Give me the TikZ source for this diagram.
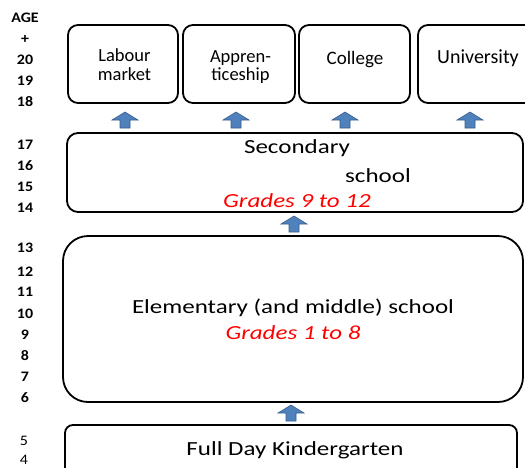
\documentclass[tikz,border=0pt]{standalone}
\usepackage{fontspec}
\setmainfont{Carlito}
\newfontfamily\widefont{Carlito}[FakeStretch=1.25]
\newfontfamily\agefont{Carlito}[FakeStretch=1.1]

\definecolor{arrowblue}{RGB}{79,129,189}
\definecolor{arrowline}{RGB}{56,93,138}
\definecolor{gradered}{RGB}{255,0,0}

\tikzset{
  box/.style={draw, line width=1.8pt, inner sep=0pt},
  toptext/.style={anchor=base, font=\fontsize{19}{17}\selectfont},
  twolines/.style={inner sep=0pt, align=center, font=\fontsize{18.5}{18.8}\selectfont},
  bigtext/.style={anchor=base, font=\widefont\fontsize{20}{20}\selectfont},
  grades/.style={anchor=base, text=gradered, font=\widefont\itshape\fontsize{20}{20}\selectfont},
  agelabel/.style={font=\agefont\bfseries\fontsize{14.5}{15}\selectfont},
  uparrow/.pic={
    \filldraw [fill=arrowblue, draw=arrowline, line width=0.6pt]
      (-5,0) -- (-5,-8) -- (-13,-8) -- (0,-16) -- (13,-8) -- (5,-8) -- (5,0) -- cycle;
  }
}

\begin{document}
\begin{tikzpicture}[x=1pt, y=-1pt]
  \useasboundingbox (0,0) rectangle (525,467);
  \clip (0,0) rectangle (525,467);

  % ages
  \foreach \age/\y [count=\i] in {AGE/18, +/39, 20/60, 19/81, 18/102,
      17/145, 16/166, 15/187, 14/208, 13/247.5, 12/272, 11/292, 10/313.5,
      9/334.5, 8/356, 7/377, 6/398}
    \node [agelabel] (age\i) at (25,\y) {\age};
  \node [font=\agefont\fontsize{14.5}{15}\selectfont] (agefive) at (24,441) {5};
  \node [font=\agefont\fontsize{14.5}{15}\selectfont] (agefour) at (24,460) {4};

  % after school
  \node [box, rounded corners=10pt, minimum width=110pt, minimum height=78pt] (labour) at (123,64) {};
  \node [box, rounded corners=10pt, minimum width=112pt, minimum height=78pt] (appren) at (239,64) {};
  \node [box, rounded corners=10pt, minimum width=111pt, minimum height=78pt] (college) at (354.5,64) {};
  \node [box, rounded corners=10pt, minimum width=119pt, minimum height=78pt] (univ) at (477.5,64) {};
  \node [twolines] (labourtxt) at (124.5,65) {Labour\\market};
  \node [twolines] (apprentxt) at (240.5,67) {Appren-\\ticeship};
  \node [toptext] (collegetxt) at (355,64) {College};
  \node [toptext, font=\fontsize{20}{20}\selectfont] (univtxt) at (478,63) {University};

  \foreach \x in {125, 236, 345, 470}
    \pic at (\x,128) {uparrow};

  % secondary
  \node [box, rounded corners=11pt, minimum width=456pt, minimum height=79pt] (secondary) at (295,172.5) {};
  \node [bigtext] (secondarytxt) at (297,153) {Secondary};
  \node [bigtext] (schooltxt) at (378,182) {school};
  \node [grades] (secgrades) at (297,207) {Grades 9 to 12};
  \pic at (294,232) {uparrow};

  % elementary
  \node [box, rounded corners=25pt, minimum width=460pt, minimum height=166pt] (elementary) at (293,319) {};
  \node [bigtext] (elementarytxt) at (293,313) {Elementary (and middle) school};
  \node [grades] (elemgrades) at (293,339) {Grades 1 to 8};
  \pic at (291,421) {uparrow};

  % kindergarten
  \node [box, rounded corners=8pt, minimum width=452pt, minimum height=56pt] (kinder) at (291,453) {};
  \node [bigtext] (kindertxt) at (295,455) {Full Day Kindergarten};
\end{tikzpicture}
\end{document}
